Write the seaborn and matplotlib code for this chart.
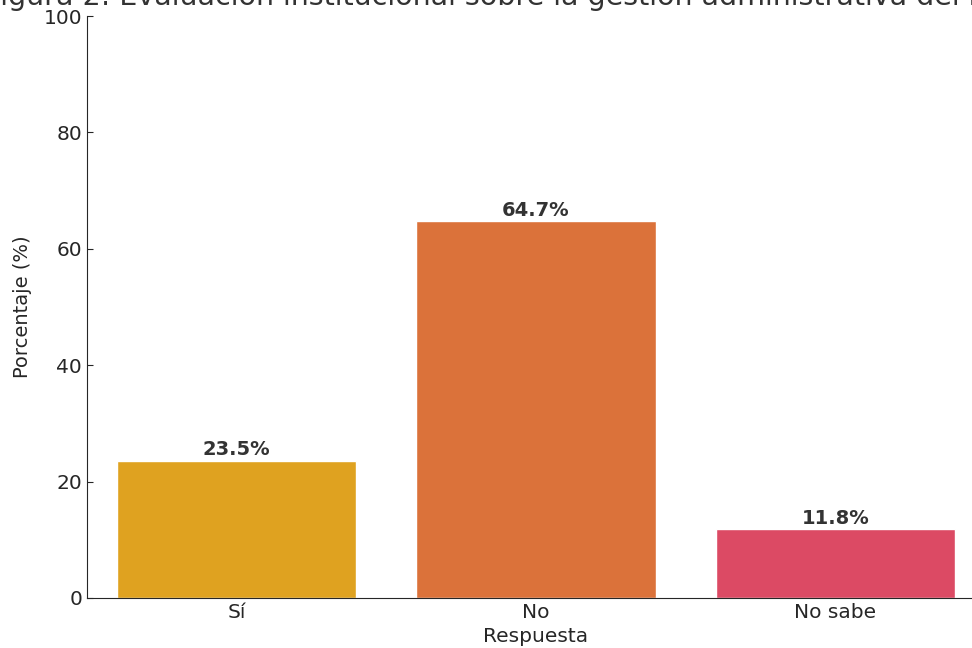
import pandas as pd
import numpy as np
import matplotlib
matplotlib.use('Agg')
import matplotlib.pyplot as plt
import seaborn as sns

# Data
respuestas = ['Sí', 'No', 'No sabe']
porcentajes = [23.5, 64.7, 11.8]
colores = ['#DFA220', '#DB723A', '#DC4A64']

titulo = 'Figura 2: Evaluación institucional sobre la gestión administrativa del instituto'

sns.set_style('ticks')
plt.rcParams['font.family'] = ['DejaVu Sans']

df = pd.DataFrame({'Respuesta': respuestas, 'Porcentaje': porcentajes})

fig = plt.figure(figsize=(9.72, 6.48), dpi=100)
# axes run past the right edge, as in the (cropped) reference
ax = fig.add_axes([0.0895, 0.0772, 0.924, 0.898])

sns.barplot(data=df, x='Respuesta', y='Porcentaje', hue='Respuesta',
            palette=colores, saturation=1, legend=False, ax=ax)

# value labels on top of each bar
for i, v in enumerate(porcentajes):
    ax.text(i, v + 0.3, f'{v}%', ha='center', va='bottom',
            fontsize=14, fontweight='bold', color='#333333')

ax.set_ylim(0, 100)
ax.set_yticks([0, 20, 40, 60, 80, 100])
ax.set_title(titulo, fontsize=20.5, color='#333333', pad=8)
ax.set_xlabel('Respuesta', fontsize=14.5, color='#262626', labelpad=4)
ax.set_ylabel('Porcentaje (%)', fontsize=14, color='#262626', labelpad=8)
ax.tick_params(direction='in', labelsize=14.5, colors='#262626', length=4)
sns.despine(ax=ax)
for s in ['left', 'bottom']:
    ax.spines[s].set_color('#262626')

plt.savefig('out.png', dpi=100)
